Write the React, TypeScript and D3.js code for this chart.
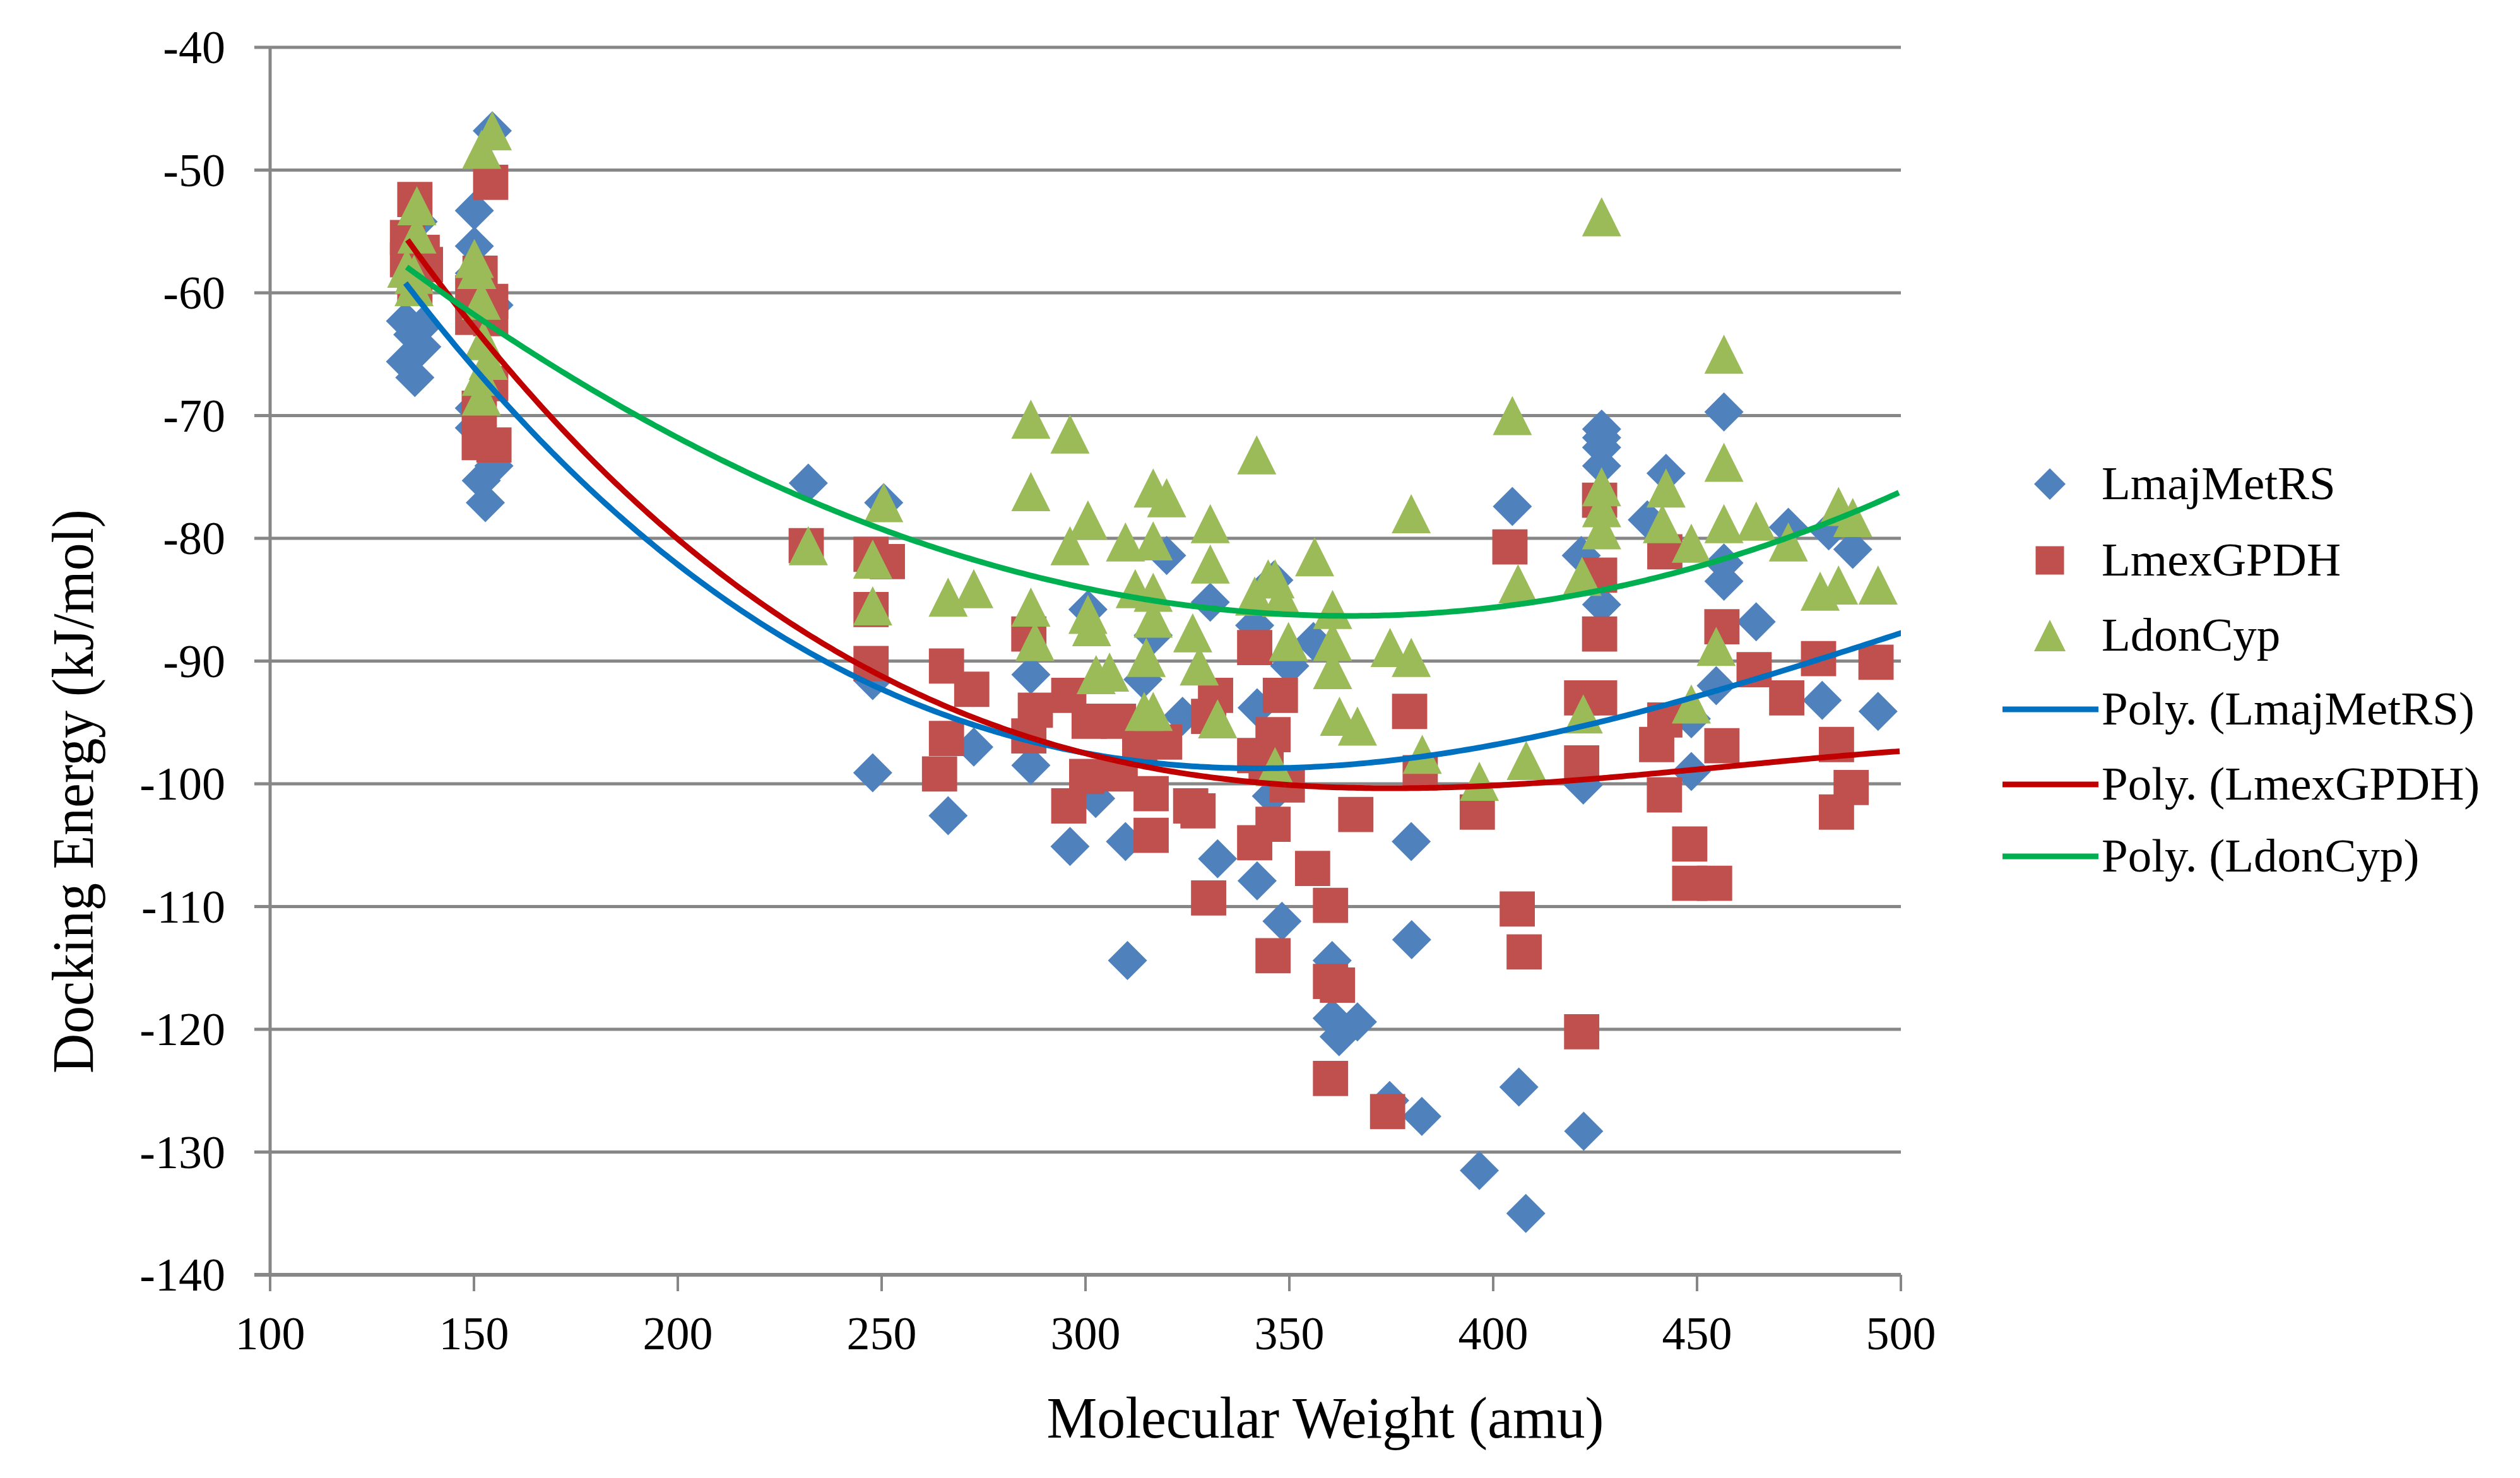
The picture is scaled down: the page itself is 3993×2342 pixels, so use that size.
import * as d3 from 'd3'

const W = 3993, H = 2342
const FONT = "'Times New Roman', 'Liberation Serif', serif"

const X_TICKS = [100, 150, 200, 250, 300, 350, 400, 450, 500]
const Y_TICKS = [-40, -50, -60, -70, -80, -90, -100, -110, -120, -130, -140]

// [molecular weight, docking energy]
const LMAJ_METRS: [number, number][] = [
  [133.2, -62.3], [135.0, -63.4], [137.2, -64.4], [133.2, -65.6], [135.5, -66.9], [137.0, -62.8],
  [136.3, -54.2], [154.5, -46.8], [150.1, -53.3], [150.1, -56.2], [150.1, -58.4], [154.9, -61.0],
  [150.1, -69.4], [150.1, -71.0], [154.9, -74.1], [151.8, -75.3], [152.8, -77.1],
  [232.0, -75.5], [250.5, -77.1], [247.8, -99.1], [247.8, -91.6], [272.6, -97.0], [266.3, -102.6],
  [286.6, -91.1], [286.6, -98.5], [300.6, -85.8], [302.5, -101.2], [296.2, -105.1], [309.8, -104.7],
  [319.9, -81.4], [330.6, -85.2], [346.2, -83.4], [316.6, -87.9], [341.5, -87.1], [355.9, -88.4],
  [350.1, -90.4], [314.1, -91.5], [323.8, -94.5], [342.1, -93.8], [345.6, -101.0], [379.9, -104.7],
  [332.4, -106.1], [342.1, -107.9], [348.2, -111.2], [310.3, -114.4], [380.0, -112.7], [360.5, -114.4],
  [360.5, -119.1], [366.7, -119.4], [362.2, -120.6], [406.3, -124.7], [374.6, -125.8], [382.5, -127.1],
  [422.2, -128.3], [396.6, -131.5], [408.0, -135.0],
  [456.6, -69.7], [426.6, -71.1], [426.6, -71.8], [426.6, -72.6], [426.6, -74.1], [442.4, -74.7],
  [404.7, -77.4], [437.8, -78.5], [472.4, -79.1], [482.3, -79.4], [488.2, -80.9], [421.6, -81.4],
  [426.6, -85.4], [456.6, -82.0], [456.6, -83.5], [464.5, -86.8], [454.7, -92.0], [480.7, -93.2],
  [494.4, -94.1], [448.6, -94.7], [422.1, -100.1], [448.6, -99.0],
]

const LMEX_GPDH: [number, number][] = [
  [154.1, -51.0], [135.5, -52.4], [133.7, -55.5], [133.7, -57.3], [137.3, -56.7], [138.1, -57.7],
  [135.5, -59.5], [151.5, -58.4], [149.7, -60.0], [154.1, -60.7], [149.7, -62.0], [154.1, -62.1],
  [154.1, -67.4], [151.3, -69.4], [151.3, -72.2], [154.9, -72.4],
  [231.5, -80.6], [247.4, -81.3], [251.4, -81.9], [247.4, -85.8], [247.4, -90.2], [265.9, -90.4],
  [272.1, -92.3], [265.9, -96.3], [264.2, -99.2], [286.1, -87.8], [295.9, -92.8], [287.7, -94.0],
  [286.1, -96.1], [300.3, -99.4], [295.9, -101.8], [300.9, -94.9], [308.1, -94.9], [308.5, -99.2],
  [341.5, -88.9], [331.9, -92.8], [347.8, -92.8], [379.5, -94.1], [330.2, -94.5], [346.0, -96.0],
  [319.4, -96.6], [313.3, -97.1], [341.5, -97.7], [344.3, -98.5], [349.5, -100.1], [382.1, -99.1],
  [316.1, -100.8], [316.1, -104.2], [325.8, -101.8], [327.6, -102.2], [366.3, -102.5], [346.0, -103.3],
  [341.5, -104.8], [355.7, -106.9], [330.2, -109.3], [360.1, -109.9], [346.0, -114.0], [405.9, -110.2],
  [407.6, -113.7], [360.1, -116.1], [361.8, -116.4], [421.7, -120.2], [360.1, -124.0], [374.1, -126.7],
  [426.1, -76.9], [404.1, -80.7], [442.1, -81.1], [426.1, -83.0], [426.1, -87.8], [456.1, -87.2],
  [464.0, -90.7], [479.8, -89.8], [493.9, -90.1], [472.0, -93.0], [421.7, -93.0], [426.1, -93.0],
  [442.1, -94.8], [440.1, -96.8], [456.1, -96.9], [484.2, -96.8], [421.7, -98.3], [396.1, -102.3],
  [442.0, -100.9], [487.8, -100.3], [484.2, -102.3], [448.2, -104.9], [448.2, -108.1], [454.3, -108.1],
]

const LDON_CYP: [number, number][] = [
  [154.5, -46.8], [151.9, -48.3], [136.0, -52.9], [136.0, -55.2], [135.3, -58.5], [135.3, -59.5],
  [133.5, -58.0], [150.1, -57.2], [150.7, -58.1], [151.8, -60.6], [152.3, -63.9], [151.8, -66.8],
  [151.8, -68.4], [153.5, -65.5],
  [232.0, -80.6], [250.5, -77.1], [247.8, -81.7], [247.8, -85.5], [266.3, -84.8], [272.6, -84.1],
  [286.6, -70.3], [296.2, -71.5], [286.6, -76.2], [300.6, -78.5], [296.2, -80.6], [309.8, -80.3],
  [286.6, -85.6], [287.6, -88.4], [300.6, -86.2], [301.5, -87.2], [302.6, -91.1], [305.9, -90.9],
  [342.0, -73.2], [316.6, -75.9], [319.9, -76.7], [330.6, -78.8], [316.6, -80.2], [379.9, -78.0],
  [344.8, -83.3], [346.5, -83.3], [356.2, -81.5], [330.6, -82.1], [341.5, -84.7], [348.1, -84.8],
  [312.2, -84.1], [316.6, -84.4], [360.6, -85.8], [326.3, -87.7], [349.8, -88.4], [360.6, -88.4],
  [374.7, -88.9], [379.9, -89.7], [360.6, -90.7], [314.9, -89.7], [327.9, -90.4], [362.3, -94.5],
  [366.7, -95.3], [332.4, -94.7], [314.4, -94.1], [316.6, -94.1], [346.5, -98.6], [382.6, -97.6],
  [316.6, -86.5],
  [426.6, -53.8], [456.6, -65.0], [404.7, -70.0], [456.6, -73.8], [442.4, -75.9], [426.6, -75.8],
  [426.6, -77.5], [426.6, -79.3], [441.5, -78.8], [448.6, -80.4], [456.6, -78.8], [464.5, -78.6],
  [472.4, -80.3], [484.7, -77.4], [488.2, -78.3], [421.8, -83.1], [406.1, -83.7], [480.2, -84.3],
  [484.7, -83.8], [494.4, -83.8], [454.7, -88.8], [422.1, -94.3], [448.6, -93.5], [396.6, -99.8],
  [408.1, -98.1],
]

// Poly. trendline coefficients (order 3), in t = (mw - 300) / 100
const TREND_LMAJ = [-97.50, -6.09, 8.01, -1.26]
const TREND_LMEX = [-97.52, -8.47, 7.42, -1.57]
const TREND_LDON = [-84.06, -6.97, 5.34, 0.054]

const SERIES = [
  { name: 'LmajMetRS', data: LMAJ_METRS, trend: TREND_LMAJ, shape: 'diamond', fill: '#4F81BD', line: '#0070C0' },
  { name: 'LmexGPDH', data: LMEX_GPDH, trend: TREND_LMEX, shape: 'square', fill: '#C0504D', line: '#C00000' },
  { name: 'LdonCyp', data: LDON_CYP, trend: TREND_LDON, shape: 'triangle', fill: '#9BBB59', line: '#00B050' },
]

function markerPath(shape: string, s: number) {
  const p = d3.path()
  const h = s / 2
  if (shape === 'diamond') {
    p.moveTo(0, -h); p.lineTo(h, 0); p.lineTo(0, h); p.lineTo(-h, 0); p.closePath()
  } else if (shape === 'square') {
    p.rect(-h * 0.9, -h * 0.9, s * 0.9, s * 0.9)
  } else {
    p.moveTo(0, -h); p.lineTo(h, h); p.lineTo(-h, h); p.closePath()
  }
  return p.toString()
}

const poly = (c: number[], mw: number) => {
  const t = (mw - 300) / 100
  return c[0] + c[1] * t + c[2] * t * t + c[3] * t * t * t
}

export default function App() {
  const mL = 428, mR = 3012, mT = 75, mB = 2020
  const x = d3.scaleLinear().domain([100, 500]).range([mL, mR])
  const y = d3.scaleLinear().domain([-140, -40]).range([mB, mT])
  const line = d3.line<[number, number]>().x(d => x(d[0])).y(d => y(d[1]))
  const axisCol = '#878787'

  const legendRows = [
    ...SERIES.map(s => ({ label: s.name, kind: 'marker', s })),
    ...SERIES.map(s => ({ label: `Poly. (${s.name})`, kind: 'line', s })),
  ]
  const legY = [767, 888, 1007, 1124, 1243, 1357]

  return (
    <svg width={W} height={H} style={{ position: 'absolute', left: 0, top: 0, background: '#fff' }}
      fontFamily={FONT}>
      <defs>
        <clipPath id="plot"><rect x={mL} y={mT - 40} width={mR - mL} height={mB - mT + 40} /></clipPath>
      </defs>
      <rect width={W} height={H} fill="#fff" />

      {/* gridlines + y ticks */}
      {Y_TICKS.map(v => (
        <g key={v}>
          <line x1={mL - 25} x2={mR} y1={y(v)} y2={y(v)} stroke={axisCol} strokeWidth={5} />
          <text x={357} y={y(v) + 25} textAnchor="end" fontSize={74}>{v}</text>
        </g>
      ))}
      <line x1={mL} x2={mL} y1={mT} y2={mB} stroke={axisCol} strokeWidth={5} />
      <line x1={mL - 25} x2={mR} y1={mB} y2={mB} stroke={axisCol} strokeWidth={6} />
      {X_TICKS.map(v => (
        <g key={v}>
          <line x1={x(v)} x2={x(v)} y1={mB} y2={mB + 26} stroke={axisCol} strokeWidth={4} />
          <text x={x(v)} y={2138} textAnchor="middle" fontSize={74}>{v}</text>
        </g>
      ))}

      <text x={2100} y={2278} textAnchor="middle" fontSize={93} textLength={883}
        lengthAdjust="spacingAndGlyphs">Molecular  Weight  (amu)</text>
      <text transform="translate(147,1254) rotate(-90)" textAnchor="middle" fontSize={93}
        textLength={894} lengthAdjust="spacingAndGlyphs">Docking  Energy  (kJ/mol)</text>

      <g clipPath="url(#plot)">
        {SERIES.map(s => (
          <g key={s.name} fill={s.fill}>
            {s.data.map((d, i) => (
              <path key={i} d={markerPath(s.shape, 62)} transform={`translate(${x(d[0])},${y(d[1])})`} />
            ))}
          </g>
        ))}
        {SERIES.map(s => {
          const lo = d3.min(s.data, d => d[0]) as number
          const pts = d3.range(lo, 500.5, 1).map(mw => [mw, poly(s.trend, mw)] as [number, number])
          return <path key={s.name} d={line(pts) || ''} fill="none" stroke={s.line} strokeWidth={9} />
        })}
      </g>

      {legendRows.map((r, i) => (
        <g key={r.label}>
          {r.kind === 'marker'
            ? <path d={markerPath(r.s.shape, 50)} transform={`translate(3248,${legY[i]})`} fill={r.s.fill} />
            : <line x1={3173} x2={3325} y1={legY[i]} y2={legY[i]} stroke={r.s.line} strokeWidth={9} />}
          <text x={3330} y={legY[i] + 24} fontSize={75}>{r.label}</text>
        </g>
      ))}
    </svg>
  )
}
